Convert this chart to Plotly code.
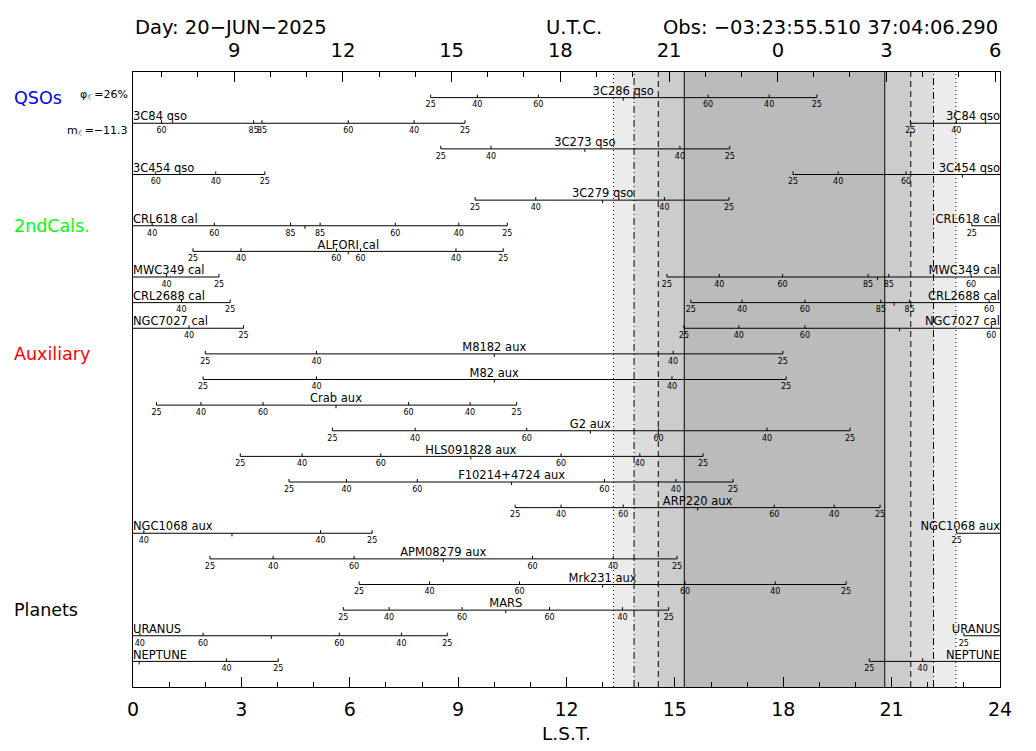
import plotly.graph_objs as go

# one row per source, L.S.T. hours
names = ["3C286 qso", "3C84 qso", "3C273 qso", "3C454 qso", "3C279 qso",
         "CRL618 cal", "ALFORI cal", "MWC349 cal", "CRL2688 cal", "NGC7027 cal",
         "M8182 aux", "M82 aux", "Crab aux", "G2 aux", "HLS091828 aux",
         "F10214+4724 aux", "ARP220 aux", "NGC1068 aux", "APM08279 aux", "Mrk231 aux",
         "MARS", "URANUS", "NEPTUNE"]

# visible part (elevation > 25 deg), may wrap round 24h
segments = [
    [(8.24, 18.93)],
    [(0, 9.19), (21.52, 24)],
    [(8.52, 16.52)],
    [(0, 3.65), (18.27, 24)],
    [(9.47, 16.50)],
    [(0, 10.36), (23.22, 24)],
    [(1.66, 10.25)],
    [(0, 2.38), (14.78, 24)],
    [(0, 2.69), (15.44, 24)],
    [(0, 3.06), (15.25, 24)],
    [(2.00, 17.99)],
    [(1.94, 18.08)],
    [(0.65, 10.62)],
    [(5.52, 19.85)],
    [(2.97, 15.78)],
    [(4.32, 16.61)],
    [(10.58, 20.68)],
    [(0, 6.62), (22.80, 24)],
    [(2.13, 15.06)],
    [(6.26, 19.74)],
    [(5.82, 14.83)],
    [(0, 8.70), (23.00, 24)],
    [(0, 4.02), (20.38, 24)],
]

# elevation marks
tick_lst = [
    [8.24, 9.53, 11.22, 15.92, 17.61, 18.93],
    [0.79, 3.34, 3.57, 5.96, 7.78, 9.19, 21.52, 22.79],
    [8.52, 9.91, 15.14, 16.52],
    [0.63, 2.29, 3.65, 18.27, 19.52, 21.40],
    [9.47, 11.15, 14.71, 16.50],
    [0.53, 2.25, 4.36, 5.18, 7.26, 9.02, 10.36, 23.22],
    [1.66, 2.99, 5.63, 6.30, 8.94, 10.25],
    [0.93, 2.38, 14.78, 16.23, 17.98, 20.35, 20.92, 23.20],
    [1.34, 2.69, 15.44, 16.86, 18.60, 20.70, 21.50, 23.70],
    [1.55, 3.06, 15.25, 16.77, 18.60, 23.76],
    [2.00, 5.08, 14.95, 17.99],
    [1.94, 5.08, 14.92, 18.08],
    [0.65, 1.88, 3.60, 7.63, 9.33, 10.62],
    [5.52, 7.81, 10.90, 14.55, 17.55, 19.85],
    [2.97, 4.68, 6.86, 11.85, 14.03, 15.78],
    [4.32, 5.91, 7.87, 13.05, 15.03, 16.61],
    [10.58, 11.85, 13.57, 17.75, 19.41, 20.68],
    [0.30, 5.19, 6.62, 22.80],
    [2.13, 3.88, 6.12, 11.06, 13.29, 15.06],
    [6.26, 8.21, 10.70, 15.28, 17.78, 19.74],
    [5.82, 7.09, 9.11, 11.53, 13.55, 14.83],
    [0.19, 1.94, 5.71, 7.43, 8.70, 23.00],
    [2.59, 4.02, 20.38, 21.86],
]
tick_elev = [
    [25, 40, 60, 60, 40, 25],
    [60, 85, 85, 60, 40, 25, 25, 40],
    [25, 40, 40, 25],
    [60, 40, 25, 25, 40, 60],
    [25, 40, 40, 25],
    [40, 60, 85, 85, 60, 40, 25, 25],
    [25, 40, 60, 60, 40, 25],
    [40, 25, 25, 40, 60, 85, 85, 60],
    [40, 25, 25, 40, 60, 85, 85, 60],
    [40, 25, 25, 40, 60, 60],
    [25, 40, 40, 25],
    [25, 40, 40, 25],
    [25, 40, 60, 60, 40, 25],
    [25, 40, 60, 60, 40, 25],
    [25, 40, 60, 60, 40, 25],
    [25, 40, 60, 60, 40, 25],
    [25, 40, 60, 60, 40, 25],
    [40, 40, 25, 25],
    [25, 40, 60, 60, 40, 25],
    [25, 40, 60, 60, 40, 25],
    [25, 40, 60, 60, 40, 25],
    [40, 60, 60, 40, 25, 25],
    [40, 25, 25, 40],
]
transit = [13.57, None, 12.51, 22.96, 13.00, 4.76, 5.96, 20.61, 21.07, 21.22,
           10.00, 10.00, 5.62, 12.66, 9.35, 10.48, 15.63, 2.74, 8.59, 13.00,
           10.32, 3.83, 0.17]

groups = ["QSOs", "2ndCals.", "Auxiliary", "Planets"]
group_rows = [1, 6, 11, 21]
group_colors = ["#0000ff", "#00ff00", "#ff0000", "#000000"]

# sun limits: dotted, dash-dot, dashed, solid ... solid, dashed, dash-dot, dotted
sun_edges = [13.30, 13.87, 14.54, 15.26, 20.81, 21.53, 22.16, 22.78]
edge_dash = ["1px,3px", "7px,3px,1px,3px", "6px,4px", "solid",
             "solid", "6px,4px", "7px,3px,1px,3px", "1px,3px"]
band_colors = ["#ececec", "#dcdcdc", "#cccccc", "#bbbbbb", "#cccccc", "#dcdcdc", "#ececec"]

utc_labels = [9, 12, 15, 18, 21, 0, 3, 6]
utc_lst = [2.80, 5.81, 8.82, 11.83, 14.84, 17.85, 20.86, 23.87]
sidereal = 1.00274

TICK = 0.12   # tick length in rows
LAB_DROP = 0.15  # elevation numbers sit a bit under the line

fig = go.Figure()

line_x, line_y = [], []
tk_x, tk_y = [], []
lab_x, lab_y, lab_t = [], [], []
mid_x, mid_y, mid_t = [], [], []
left_y, left_t, right_y, right_t = [], [], [], []

for i, name in enumerate(names):
    row = i + 1
    for (a, b) in segments[i]:
        line_x += [a, b, None]
        line_y += [row, row, None]
        if a == 0:
            left_y.append(row)
            left_t.append(name)
        elif b == 24:
            right_y.append(row)
            right_t.append(name)
        else:
            mid_x.append(transit[i])
            mid_y.append(row)
            mid_t.append(name)
    for t, e in zip(tick_lst[i], tick_elev[i]):
        tk_x += [t, t, None]
        tk_y += [row, row - TICK, None]
        lab_x.append(t)
        lab_y.append(row + LAB_DROP)
        lab_t.append(str(e))
    if transit[i] is not None:
        tk_x += [transit[i], transit[i], None]
        tk_y += [row, row + TICK, None]

fig.add_trace(go.Scatter(x=line_x, y=line_y, mode='lines', line=dict(color='black', width=1),
                         hoverinfo='skip', showlegend=False))
fig.add_trace(go.Scatter(x=tk_x, y=tk_y, mode='lines', line=dict(color='black', width=1),
                         hoverinfo='skip', showlegend=False))
fig.add_trace(go.Scatter(x=lab_x, y=lab_y, mode='text', text=lab_t, textposition='bottom center',
                         textfont=dict(size=8, color='black'), cliponaxis=False, showlegend=False))
fig.add_trace(go.Scatter(x=mid_x, y=mid_y, mode='text', text=mid_t, textposition='top center',
                         textfont=dict(size=11.5, color='black'), cliponaxis=False, showlegend=False))
fig.add_trace(go.Scatter(x=[0] * len(left_y), y=left_y, mode='text', text=left_t, textposition='top right',
                         textfont=dict(size=11.5, color='black'), cliponaxis=False, showlegend=False))
fig.add_trace(go.Scatter(x=[24] * len(right_y), y=right_y, mode='text', text=right_t, textposition='top left',
                         textfont=dict(size=11.5, color='black'), cliponaxis=False, showlegend=False))
# carrier for the U.T.C. axis
fig.add_trace(go.Scatter(x=[0, 24], y=[0, 0], xaxis='x2', mode='markers', marker=dict(opacity=0),
                         hoverinfo='skip', showlegend=False))

shapes = []
for k, c in enumerate(band_colors):
    shapes.append(dict(type='rect', xref='x', yref='paper', x0=sun_edges[k], x1=sun_edges[k + 1],
                       y0=0, y1=1, fillcolor=c, line=dict(width=0), layer='below'))
for s, d in zip(sun_edges, edge_dash):
    shapes.append(dict(type='line', xref='x', yref='paper', x0=s, x1=s, y0=0, y1=1,
                       line=dict(color='black', width=1, dash=d), layer='below'))

minor_utc = []
for h in range(7, 31):
    v = utc_lst[0] + (h - 9) * sidereal
    if 0 < v < 24 and (h - 9) % 3 != 0:
        minor_utc.append(v)

annotations = []
for g, r, c in zip(groups, group_rows, group_colors):
    annotations.append(dict(text=g, xref='paper', yref='y', x=-0.139, y=r, xanchor='left',
                            yanchor='middle', showarrow=False, font=dict(size=17.5, color=c)))
annotations += [
    dict(text="φ<sub>☾</sub>=26%", xref='paper', yref='y', x=-0.004, y=0.9, xanchor='right',
         yanchor='middle', showarrow=False, font=dict(size=11)),
    dict(text="m<sub>☾</sub>=−11.3", xref='paper', yref='y', x=-0.004, y=2.3, xanchor='right',
         yanchor='middle', showarrow=False, font=dict(size=11)),
    dict(text="Day: 20−JUN−2025", xref='paper', yref='paper', x=0.0, y=1.073, xanchor='left',
         yanchor='middle', showarrow=False, font=dict(size=19.5)),
    dict(text="U.T.C.", xref='paper', yref='paper', x=0.509, y=1.073, xanchor='center',
         yanchor='middle', showarrow=False, font=dict(size=19.5)),
    dict(text="Obs: −03:23:55.510 37:04:06.290", xref='paper', yref='paper', x=1.0, y=1.073,
         xanchor='right', yanchor='middle', showarrow=False, font=dict(size=19.5)),
    dict(text="L.S.T.", xref='paper', yref='paper', x=0.5, y=-0.076, xanchor='center',
         yanchor='middle', showarrow=False, font=dict(size=18.5)),
]

# page body keeps an 8px margin, so the figure is 8px smaller each way
fig.update_layout(
    width=1028, height=743,
    margin=dict(l=125, r=36, t=64, b=64),
    plot_bgcolor='white', paper_bgcolor='white',
    showlegend=False,
    font=dict(family='DejaVu Sans', color='black'),
    shapes=shapes, annotations=annotations,
    xaxis=dict(range=[0, 24], tickmode='linear', tick0=0, dtick=3, ticks='inside', ticklen=10,
               tickcolor='black', minor=dict(dtick=1, ticks='inside', ticklen=5, tickcolor='black'),
               showline=True, linecolor='black', linewidth=1, showgrid=False, zeroline=False,
               tickfont=dict(size=19), ticklabelstandoff=5),
    xaxis2=dict(range=[0, 24], overlaying='x', side='top', anchor='y', tickmode='array',
                tickvals=utc_lst, ticktext=[str(u) for u in utc_labels], ticks='inside', ticklen=10,
                tickcolor='black',
                minor=dict(tickmode='array', tickvals=minor_utc, ticks='inside', ticklen=5, tickcolor='black'),
                showline=True, linecolor='black', linewidth=1, showgrid=False, zeroline=False,
                tickfont=dict(size=19.5), ticklabelstandoff=6),
    yaxis=dict(range=[24, 0], showline=True, mirror=True, linecolor='black', linewidth=1,
               showticklabels=False, ticks='', showgrid=False, zeroline=False),
)

fig.write_html("out.html")
